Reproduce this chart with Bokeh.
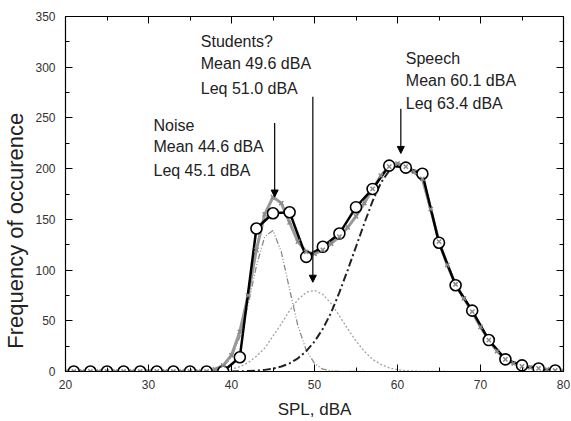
from bokeh.plotting import figure
from bokeh.models import (Range1d, LinearAxis, SingleIntervalTicker, Arrow,
                          NormalHead, ColumnDataSource)
from bokeh.core.properties import value
from bokeh.embed import file_html
from bokeh.resources import INLINE

FONT = "Liberation Sans"

# ---- measured histogram (circles) ----
spl_meas = [21, 23, 25, 27, 29, 31, 33, 35, 37, 39,
            41, 43, 45, 47, 49, 51, 53, 55, 57, 59,
            61, 63, 65, 67, 69, 71, 73, 75, 77, 79]
freq_meas = [0, 0, 0, 0, 0, 0, 0, 0, 0, 0,
             14, 141, 156, 157, 113, 123, 136, 162, 180, 203,
             201, 195, 127, 85, 60, 31, 12, 6, 3, 1]

# ---- fitted sum (grey line with crosses) ----
spl_fit = list(range(20, 81))
freq_fit = [0, 0, 0, 0, 0, 0, 0, 0, 0, 0,
            0, 0, 0, 0, 0, 0, 0, 0, 2, 6,
            16, 39, 75, 120, 155, 172, 166, 147, 128, 118,
            116, 120, 126, 133, 142, 153, 166, 180, 193, 202,
            205, 202, 197, 190, 160, 128, 105, 86, 72, 59,
            44, 31, 20, 12, 8, 5, 4, 3, 2, 1, 0.5]

# ---- noise component ----
spl_noise = list(range(36, 57))
freq_noise = [0, 0, 1.4, 5, 14, 34, 66, 104, 133, 139, 118, 81, 45, 21,
              8, 2.3, 0.6, 0, 0, 0, 0]

# ---- students component ----
spl_stud = list(range(36, 67))
freq_stud = [0, 0, 0.5, 1.1, 2.4, 4.7, 8.7, 15, 23, 35, 47, 60, 71, 78, 80,
             76, 67, 55, 42, 30, 20, 12, 7, 3.6, 1.8, 0.8, 0.4, 0, 0, 0, 0]

# ---- speech component ----
spl_speech = list(range(38, 81))
freq_speech = [0, 0, 0.1, 0.2, 0.4, 0.8, 1.6, 2.8, 4.9, 8, 13, 20, 29.5,
               42, 58, 78, 100, 123, 146, 168, 186, 198, 203, 200, 196, 190,
               160, 128, 105, 86, 72, 59, 44, 31, 20, 12, 8, 5, 4, 3, 2, 1, 0.5]

# ---- annotations ----
ann_x = [30.6, 30.6, 30.6, 36.3, 36.3, 36.3, 61.0, 61.0, 61.0]
ann_y = [243, 221.5, 198, 325, 303.5, 279.5, 308.5, 287, 264.5]
ann_text = ["Noise", "Mean 44.6 dBA", "Leq 45.1 dBA",
            "Students?", "Mean 49.6 dBA", "Leq 51.0 dBA",
            "Speech", "Mean 60.1 dBA", "Leq 63.4 dBA"]

arrow_x = [45.2, 49.8, 60.4]
arrow_y0 = [245, 271, 259]
arrow_y1 = [172, 88, 215]

x_ticks_interval = 10
y_ticks_interval = 50

p = figure(width=571, height=421, output_backend="svg", toolbar_location=None,
           x_range=Range1d(20, 80), y_range=Range1d(0, 350),
           min_border_left=65, min_border_right=8, min_border_top=16,
           min_border_bottom=49)
p.background_fill_color = "white"
p.border_fill_color = "white"
p.outline_line_color = "black"
p.outline_line_width = 1.2
p.grid.visible = False

# components
p.line(spl_noise, freq_noise, line_color="#8a8a8a", line_width=1.3,
       line_dash="6 2 1 2 1 2")
p.line(spl_stud, freq_stud, line_color="#a0a0a0", line_width=1.3,
       line_dash="2 2")
p.line(spl_speech, freq_speech, line_color="#222222", line_width=2,
       line_dash="8 3 2 3")

# fitted sum (grey) and measured line
p.line(spl_fit, freq_fit, line_color="#999999", line_width=3)
p.line(spl_meas, freq_meas, line_color="black", line_width=2.5)
p.scatter(spl_meas, freq_meas, marker="circle", size=11, fill_color="white",
          line_color="black", line_width=1.6)
p.scatter(spl_fit, freq_fit, marker="x", size=6, line_color="#8a8a8a",
          line_width=1.5)

# arrows
for xa, ya0, ya1 in zip(arrow_x, arrow_y0, arrow_y1):
    p.add_layout(Arrow(x_start=xa, y_start=ya0, x_end=xa, y_end=ya1,
                       line_color="black", line_width=1.2,
                       end=NormalHead(size=7, fill_color="black",
                                      line_color="black", line_width=1)))

# texts
src = ColumnDataSource(dict(x=ann_x, y=ann_y, t=ann_text))
p.text(x="x", y="y", text="t", source=src, text_font=value(FONT),
       text_font_size="16px", text_color="#222222", text_baseline="middle",
       text_align="left")

# axes
def style_axis(ax, labels=True):
    ax.axis_line_color = "black"
    ax.major_tick_in = 7
    ax.major_tick_out = 0
    ax.minor_tick_in = 4
    ax.minor_tick_out = 0
    ax.major_tick_line_color = "black"
    ax.minor_tick_line_color = "black"
    if labels:
        ax.major_label_text_font = FONT
        ax.major_label_text_font_size = "12px"
        ax.major_label_text_color = "#333333"
    else:
        ax.major_label_text_color = None
        ax.major_label_text_font_size = "1px"
        ax.major_label_standoff = 0

xt = SingleIntervalTicker(interval=x_ticks_interval, num_minor_ticks=2)
yt = SingleIntervalTicker(interval=y_ticks_interval, num_minor_ticks=2)

p.xaxis.ticker = xt
p.yaxis.ticker = yt
style_axis(p.xaxis[0])
style_axis(p.yaxis[0])
p.xaxis.major_label_standoff = 8
p.yaxis.major_label_standoff = 10

p.xaxis.axis_label = "SPL, dBA"
p.xaxis.axis_label_text_font = FONT
p.xaxis.axis_label_text_font_size = "17px"
p.xaxis.axis_label_text_font_style = "normal"
p.xaxis.axis_label_text_color = "#222222"
p.xaxis.axis_label_standoff = 8

# trailing figure spaces shift the centred label downwards, as in the reference
p.yaxis.axis_label = "Frequency of occurence" + "\u2007" * 6
p.yaxis.axis_label_text_font = FONT
p.yaxis.axis_label_text_font_size = "22px"
p.yaxis.axis_label_text_font_style = "normal"
p.yaxis.axis_label_text_color = "#222222"
p.yaxis.axis_label_standoff = 4

ax_top = LinearAxis(ticker=SingleIntervalTicker(interval=x_ticks_interval, num_minor_ticks=2))
style_axis(ax_top, labels=False)
p.add_layout(ax_top, "above")
ax_right = LinearAxis(ticker=SingleIntervalTicker(interval=y_ticks_interval, num_minor_ticks=2))
style_axis(ax_right, labels=False)
p.add_layout(ax_right, "right")

open("out.html", "w").write(file_html(p, INLINE))
